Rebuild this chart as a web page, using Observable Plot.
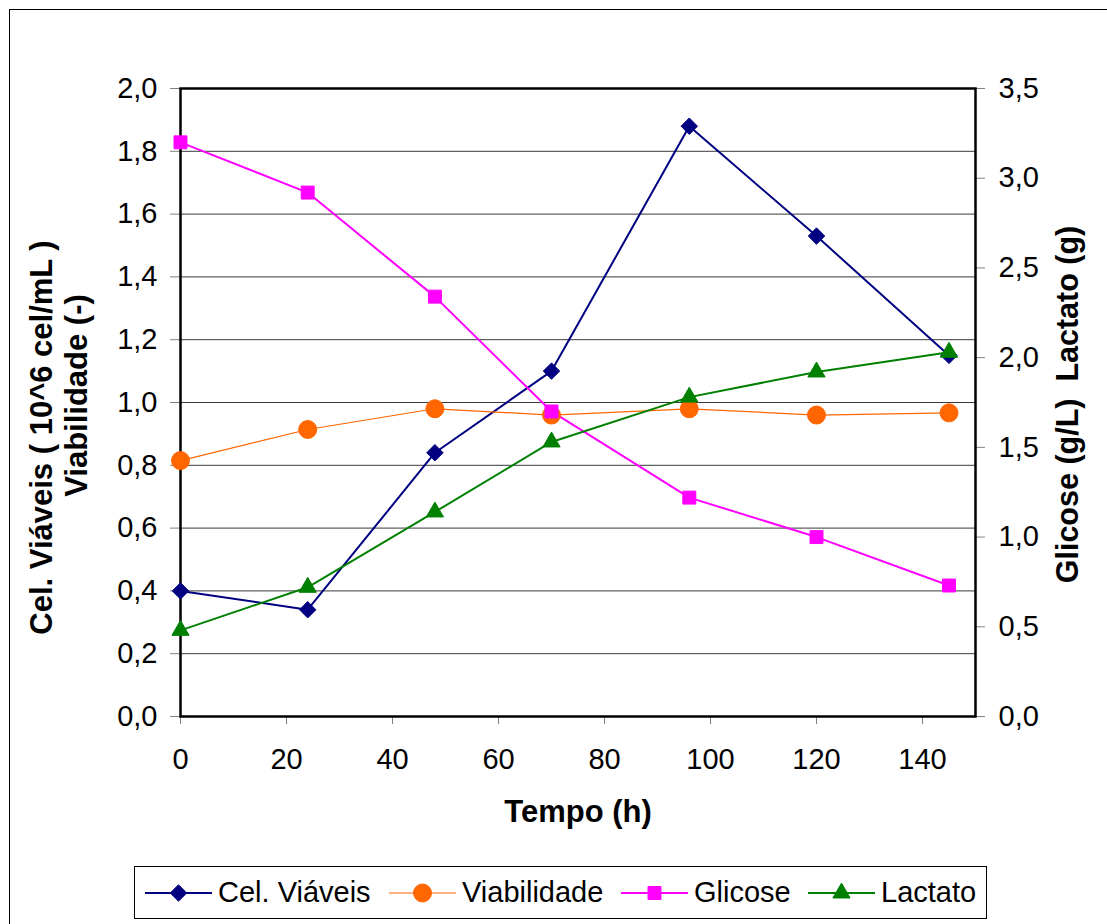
<!DOCTYPE html>
<html>
<head>
<meta charset="utf-8">
<script src="https://cdn.jsdelivr.net/npm/d3@7"></script>
<script src="https://cdn.jsdelivr.net/npm/@observablehq/plot@0.6"></script>
<style>
  html, body { margin: 0; padding: 0; background: #fff; }
  body { width: 1107px; height: 924px; overflow: hidden; position: relative; font-family: "Liberation Sans", Arial, sans-serif; }
  #border { position: absolute; left: 9px; top: 9px; width: 1200px; height: 1000px; border: 1px solid #000; box-sizing: border-box; }
  #chart { position: absolute; left: 0; top: 0; }
  #legend { position: absolute; left: 134px; top: 866px; width: 853px; height: 53px; border: 1px solid #000; box-sizing: border-box; background: #fff; font-size: 29px; color: #000; }
  .item { position: absolute; top: 0; height: 51px; display: flex; align-items: center; white-space: nowrap; }
  .item svg { margin-right: 6px; display: block; }
</style>
</head>
<body>
<div id="border"></div>
<div id="chart"></div>
<div id="legend"></div>
<script>
// ---- data ----
const tempo       = [0, 24, 48, 70, 96, 120, 145];
const celViaveis  = [0.40, 0.34, 0.84, 1.10, 1.88, 1.53, 1.15];
const viabilidade = [0.815, 0.914, 0.98, 0.96, 0.98, 0.96, 0.967];
const glicose     = [3.20, 2.92, 2.34, 1.70, 1.22, 1.00, 0.73];
const lactato     = [0.48, 0.72, 1.14, 1.53, 1.78, 1.92, 2.03];

const seriesNames = ["Cel. Viáveis", "Viabilidade", "Glicose", "Lactato"];
const xTicks      = [0, 20, 40, 60, 80, 100, 120, 140];
const leftTicks   = [0, 0.2, 0.4, 0.6, 0.8, 1.0, 1.2, 1.4, 1.6, 1.8, 2.0];
const rightTicks  = [0, 0.5, 1.0, 1.5, 2.0, 2.5, 3.0, 3.5];
const xTitle      = "Tempo (h)";
const leftTitle1  = "Cel. Viáveis ( 10^6 cel/mL )";
const leftTitle2  = "Viabilidade (-)";
const rightTitle  = "Glicose (g/L)  Lactato (g)";

// ---- styles ----
const leftMax = 2, rightMax = 3.5;
const k = leftMax / rightMax; // right axis -> left axis units
const styles = {
  "Cel. Viáveis": {color: "#000080", width: 2, symbol: "diamond2", r: 7.4, axis: "left", legendLeft: 10},
  "Viabilidade":  {color: "#FF6600", width: 1.2, symbol: "circle", r: 9, axis: "left", legendLeft: 254},
  "Glicose":      {color: "#FF00FF", width: 2, symbol: "square", r: 7.3, axis: "right", legendLeft: 486},
  "Lactato":      {color: "#008000", width: 2, symbol: "triangle", r: 6.4, axis: "right", legendLeft: 673}
};
const values = {"Cel. Viáveis": celViaveis, "Viabilidade": viabilidade, "Glicose": glicose, "Lactato": lactato};

const rows = [];
for (const s of seriesNames) {
  tempo.forEach((t, i) => rows.push({serie: s, t, v: values[s][i]}));
}
const yVal = d => styles[d.serie].axis === "right" ? d.v * k : d.v;
const comma = v => v.toFixed(1).replace(".", ",");

const FONT = "Liberation Sans, Arial, sans-serif";
const TITLE = 31;

const marks = [
  Plot.gridY(leftTicks.slice(1), {stroke: "#3a3a3a", strokeOpacity: 1, strokeWidth: 1}),
  Plot.axisX(xTicks, {anchor: "bottom", tickSize: 8, tickPadding: 24, stroke: "#808080", fill: "#000", tickFormat: d => String(d), label: null}),
  Plot.axisY(leftTicks, {anchor: "left", tickSize: 10, tickPadding: 13, stroke: "#808080", fill: "#000", tickFormat: comma, label: null}),
  Plot.axisY(rightTicks.map(v => v * k), {anchor: "right", tickSize: 9, tickPadding: 14, stroke: "#808080", fill: "#000", tickFormat: d => comma(d / k), label: null}),
  Plot.frame({stroke: "#000", strokeWidth: 2.5})
];
for (const s of seriesNames) {
  const st = styles[s];
  const data = rows.filter(d => d.serie === s);
  marks.push(Plot.line(data, {x: "t", y: yVal, stroke: st.color, strokeWidth: st.width}));
}
for (const s of seriesNames) {
  const st = styles[s];
  const data = rows.filter(d => d.serie === s);
  marks.push(Plot.dot(data, {x: "t", y: yVal, symbol: () => st.symbol, r: st.r, fill: st.color, stroke: st.color, strokeWidth: 1}));
}
marks.push(
  Plot.text([xTitle], {text: d => d, frameAnchor: "bottom", dy: 96, lineAnchor: "middle", fontWeight: "bold", fontSize: TITLE, fill: "#000"}),
  Plot.text([leftTitle1], {text: d => d, frameAnchor: "left", dx: -138, dy: 35, rotate: -90, textAnchor: "middle", lineAnchor: "middle", fontWeight: "bold", fontSize: TITLE, fill: "#000"}),
  Plot.text([leftTitle2], {text: d => d, frameAnchor: "left", dx: -103, dy: -7, rotate: -90, textAnchor: "middle", lineAnchor: "middle", fontWeight: "bold", fontSize: TITLE, fill: "#000"}),
  Plot.text([rightTitle], {text: d => d, frameAnchor: "right", dx: 93, dy: 2, rotate: -90, textAnchor: "middle", lineAnchor: "middle", fontWeight: "bold", fontSize: 30.5, fill: "#000"})
);

const chart = Plot.plot({
  width: 1107,
  height: 780,
  marginLeft: 180,
  marginRight: 132,
  marginTop: 88,
  marginBottom: 64,
  style: {fontFamily: FONT, fontSize: "29px", color: "#000", background: "transparent", overflow: "visible"},
  x: {domain: [0, 150]},
  y: {domain: [0, leftMax]},
  symbol: {type: "identity"},
  marks
});
// preserve multiple spaces in right title
chart.querySelectorAll("text").forEach(t => { if (t.textContent.includes("Lactato (g)")) { t.setAttribute("xml:space", "preserve"); t.style.whiteSpace = "pre"; } });
document.getElementById("chart").appendChild(chart);

// ---- legend ----
const legend = document.getElementById("legend");
const symMap = {diamond2: d3.symbolDiamond2, circle: d3.symbolCircle, square: d3.symbolSquare, triangle: d3.symbolTriangle};
for (const s of seriesNames) {
  const st = styles[s];
  const item = document.createElement("div");
  item.className = "item";
  item.style.left = st.legendLeft + "px";
  const w = 67, h = 30;
  const path = d3.symbol(symMap[st.symbol], Math.PI * st.r * st.r)();
  item.innerHTML = `<svg width="${w}" height="${h}"><line x1="0" x2="${w}" y1="${h/2}" y2="${h/2}" stroke="${st.color}" stroke-width="${st.width}"/><path transform="translate(${w/2},${h/2})" d="${path}" fill="${st.color}" stroke="${st.color}"/></svg><span>${s}</span>`;
  legend.appendChild(item);
}
</script>
</body>
</html>
